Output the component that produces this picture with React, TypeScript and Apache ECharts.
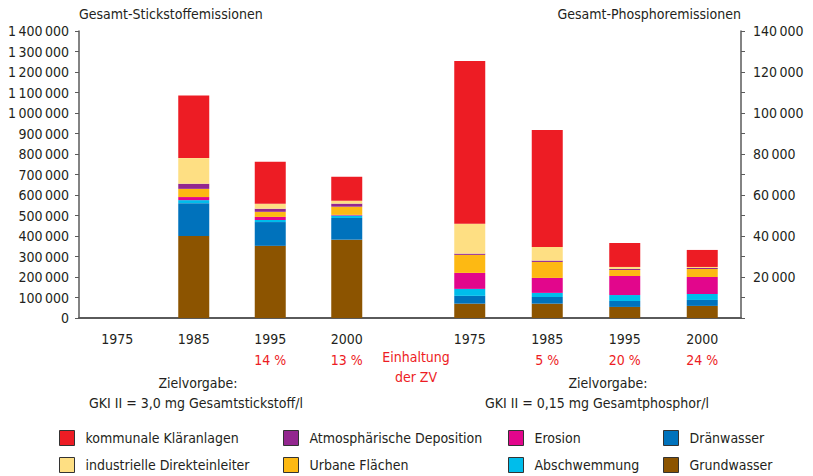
import React, { useEffect, useRef } from "react";
import * as echarts from "echarts";

// ---- Data ----
const years = ["1975", "1985", "1995", "2000"];
const complianceN = ["", "", "14 %", "13 %"];
const complianceP = ["", "5 %", "20 %", "24 %"];

// Nitrogen (t/a) per year 1975, 1985, 1995, 2000 (1975 not available)
const grundwasserN = [null, 400000, 352000, 382000];
const draenwasserN = [null, 160000, 116000, 106000];
const abschwemmungN = [null, 15000, 10000, 12000];
const erosionN = [null, 15000, 15000, 3000];
const urbaneN = [null, 40000, 25000, 40000];
const atmosN = [null, 25000, 15000, 15000];
const industrieN = [null, 125000, 24000, 14000];
const kommunalN = [null, 305000, 205000, 117000];

// Phosphorus (t/a)
const grundwasserP = [7000, 7000, 5400, 5900];
const draenwasserP = [3800, 3250, 2900, 2900];
const abschwemmungP = [3400, 2000, 2900, 2900];
const erosionP = [7800, 7300, 9300, 8300];
const urbaneP = [8800, 7800, 2900, 3900];
const atmosP = [600, 650, 500, 500];
const industrieP = [14600, 6650, 1000, 500];
const kommunalP = [79400, 57000, 11700, 8300];

const leftAxisMax = 1400000;
const rightAxisMax = 140000;

// legend layout: rows x columns
const legendRows = [
  ["kommunale Kläranlagen", "Atmosphärische Deposition", "Erosion", "Dränwasser"],
  ["industrielle Direkteinleiter", "Urbane Flächen", "Abschwemmung", "Grundwasser"],
];

const colors: Record<string, string> = {
  "kommunale Kläranlagen": "#ED1C24",
  "industrielle Direkteinleiter": "#FEDF83",
  "Atmosphärische Deposition": "#93278F",
  "Urbane Flächen": "#FDB913",
  "Erosion": "#E2068C",
  "Abschwemmung": "#00BDEB",
  "Dränwasser": "#0072BC",
  "Grundwasser": "#8C5400",
};

const stackOrder = [
  ["Grundwasser", grundwasserN, grundwasserP],
  ["Dränwasser", draenwasserN, draenwasserP],
  ["Abschwemmung", abschwemmungN, abschwemmungP],
  ["Erosion", erosionN, erosionP],
  ["Urbane Flächen", urbaneN, urbaneP],
  ["Atmosphärische Deposition", atmosN, atmosP],
  ["industrielle Direkteinleiter", industrieN, industrieP],
  ["kommunale Kläranlagen", kommunalN, kommunalP],
] as const;

const FONT = '"DejaVu Sans Condensed", "Liberation Sans Narrow", "Roboto", sans-serif';
const FS = 14;
const TEXT = "#231F20";
const RED = "#ED1C24";
const AXIS = "#5a5a5a";

const fmt = (v: number) => String(v).replace(/\B(?=(\d{3})+(?!\d))/g, "\u2009");

export default function App() {
  const ref = useRef<HTMLDivElement>(null);
  useEffect(() => {
    if (!ref.current) return;
    const chart = echarts.init(ref.current, undefined, { renderer: "svg" });

    const yearLabel = (comp: string[]) => (value: string, idx: number) => {
      if (!value) return "";
      const c = comp[idx];
      return c ? `{y|${value}}\n{p|${c}}` : `{y|${value}}`;
    };
    const rich = {
      y: { fontFamily: FONT, fontSize: FS, color: TEXT, lineHeight: 21 },
      p: { fontFamily: FONT, fontSize: FS, color: RED, lineHeight: 21 },
    };

    const series: any[] = [];
    stackOrder.forEach(([name, n, p]) => {
      series.push({
        name, type: "bar", stack: "N", xAxisIndex: 0, yAxisIndex: 0, barWidth: 31,
        data: [...n, null], itemStyle: { color: colors[name] },
      });
      series.push({
        name, type: "bar", stack: "P", xAxisIndex: 1, yAxisIndex: 1, barWidth: 31,
        data: [...p], itemStyle: { color: colors[name] },
      });
    });

    const colLeft = [59, 283, 508, 663];
    const rowTop = [430, 457];
    const legends: any[] = [];
    legendRows.forEach((row, r) =>
      row.forEach((name, c) =>
        legends.push({
          left: colLeft[c],
          top: rowTop[r],
          itemWidth: 15,
          itemHeight: 15,
          padding: 0,
          icon: "rect",
          data: [name],
          selectedMode: false,
          itemStyle: { borderColor: "#333", borderWidth: 1 },
          textStyle: { fontFamily: FONT, fontSize: FS, color: TEXT, padding: [0, 0, 0, 6] },
        })
      )
    );

    const txt = (text: string, x: number, y: number, fill = TEXT) => ({
      type: "text", x, y,
      style: { text, fill, font: `${FS}px ${FONT}`, align: "center", verticalAlign: "middle" },
    });

    chart.setOption({
      animation: false,
      textStyle: { fontFamily: FONT },
      title: [
        { text: "Gesamt-Stickstoffemissionen", left: 79, top: 7, padding: 0,
          textStyle: { fontFamily: FONT, fontSize: FS, fontWeight: "normal", color: TEXT } },
        { text: "Gesamt-Phosphoremissionen", right: 72, top: 7, padding: 0,
          textStyle: { fontFamily: FONT, fontSize: FS, fontWeight: "normal", color: TEXT } },
      ],
      legend: legends,
      grid: [
        { left: 79, top: 31, width: 382.5, height: 287 },
        { left: 431, top: 31, width: 310, height: 287 },
      ],
      xAxis: [
        {
          type: "category", gridIndex: 0, data: [...years, ""],
          axisLine: { lineStyle: { color: AXIS, width: 2 } },
          axisTick: { show: false },
          axisLabel: { interval: 0, margin: 10, formatter: yearLabel(complianceN), rich },
        },
        {
          type: "category", gridIndex: 1, data: years,
          axisLine: { lineStyle: { color: AXIS, width: 2 } },
          axisTick: { show: false },
          axisLabel: { interval: 0, margin: 10, formatter: yearLabel(complianceP), rich },
        },
      ],
      yAxis: [
        {
          type: "value", gridIndex: 0, position: "left", min: 0, max: leftAxisMax, interval: 100000,
          axisLine: { show: true, lineStyle: { color: AXIS, width: 1.5 } },
          axisTick: { show: true, length: 4, lineStyle: { color: AXIS } },
          splitLine: { show: false },
          axisLabel: { margin: 10, fontFamily: FONT, fontSize: FS, color: TEXT, formatter: (v: number) => fmt(v) },
        },
        {
          type: "value", gridIndex: 1, position: "right", min: 0, max: rightAxisMax, interval: 10000,
          axisLine: { show: true, lineStyle: { color: AXIS, width: 1.5 } },
          axisTick: { show: true, length: 4, lineStyle: { color: AXIS } },
          splitLine: { show: false },
          axisLabel: {
            margin: 12, fontFamily: FONT, fontSize: FS, color: TEXT,
            formatter: (v: number) => (v > 0 && v % 20000 === 0 ? fmt(v) : ""),
          },
        },
      ],
      graphic: [
        txt("Einhaltung", 416, 357, RED),
        txt("der ZV", 416, 377, RED),
        txt("Zielvorgabe:", 198, 383),
        txt("GKI II = 3,0 mg Gesamtstickstoff/l", 196, 403),
        txt("Zielvorgabe:", 608, 383),
        txt("GKI II = 0,15 mg Gesamtphosphor/l", 597, 403),
      ],
      series,
    });
    return () => chart.dispose();
  }, []);
  return (
    <div
      ref={ref}
      style={{ position: "absolute", left: 0, top: 0, width: 813, height: 476 }}
    />
  );
}
